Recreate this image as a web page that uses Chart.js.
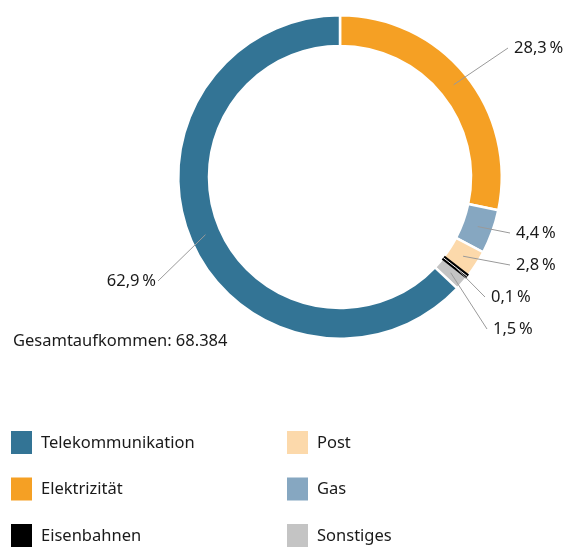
<!DOCTYPE html>
<html>
<head>
<meta charset="utf-8">
<script src="https://cdn.jsdelivr.net/npm/chart.js@4"></script>
<style>
  html, body { margin: 0; padding: 0; background: #fff; }
  #wrap { position: relative; width: 569px; height: 547px; }
</style>
</head>
<body>
<div id="wrap"><canvas id="chart" width="569" height="547"></canvas></div>
<script>
// data, clockwise from 12 o'clock
const sectors = ['Elektrizität', 'Gas', 'Post', 'Eisenbahnen', 'Sonstiges', 'Telekommunikation'];
const shares = [28.3, 4.4, 2.8, 0.1, 1.5, 62.9];
const colors = ['#f5a024', '#86a7c1', '#fcd9ab', '#000000', '#c4c4c4', '#337495'];
const totalText = 'Gesamtaufkommen: 68.384';

// legend layout: column-major, two columns
const legendOrder = ['Telekommunikation', 'Elektrizität', 'Eisenbahnen', 'Post', 'Gas', 'Sonstiges'];

// label text anchor offsets from the ring centre (px)
const labelOffsets = [[168, -129], [170, 56], [170, 88], [145, 120], [147, 152], [-182, 104]];

const FONT = '"Noto Sans", "Open Sans", sans-serif';
const TEXT = '#1a1a1a';

function fmt(v) {
    return v.toFixed(1).replace('.', ',') + '\u2009%';
}

const annotations = {
    id: 'annotations',
    afterDatasetsDraw(chart) {
        // tiny slices are too thin to see, widen them with a stroke along their mid angle
        const ctx = chart.ctx;
        chart.getDatasetMeta(0).data.forEach((arc, i) => {
            if (shares[i] >= 0.5) return;
            const mid = (arc.startAngle + arc.endAngle) / 2;
            const c = Math.cos(mid), s = Math.sin(mid);
            ctx.save();
            ctx.beginPath();
            ctx.moveTo(arc.x + c * arc.innerRadius, arc.y + s * arc.innerRadius);
            ctx.lineTo(arc.x + c * arc.outerRadius, arc.y + s * arc.outerRadius);
            ctx.strokeStyle = colors[i];
            ctx.lineWidth = 5;
            ctx.stroke();
            ctx.strokeStyle = '#ffffff';
            ctx.lineWidth = 1;
            ctx.stroke();
            ctx.restore();
        });
    },
    afterDraw(chart) {
        const ctx = chart.ctx;
        const arcs = chart.getDatasetMeta(0).data;
        ctx.save();
        arcs.forEach((arc, i) => {
            const mid = (arc.startAngle + arc.endAngle) / 2;
            const r = (arc.innerRadius + arc.outerRadius) / 2;
            const ax = arc.x + Math.cos(mid) * r;
            const ay = arc.y + Math.sin(mid) * r;
            const [dx, dy] = labelOffsets[i];
            const lx = arc.x + dx;
            const ly = arc.y + dy;
            const left = dx < 0;
            ctx.strokeStyle = '#9a9a9a';
            ctx.lineWidth = 1;
            ctx.beginPath();
            ctx.moveTo(ax, ay);
            ctx.lineTo(lx, ly);
            ctx.stroke();
            ctx.fillStyle = TEXT;
            ctx.font = '16.5px ' + FONT;
            ctx.textBaseline = 'middle';
            ctx.textAlign = left ? 'right' : 'left';
            ctx.fillText(fmt(shares[i]), lx + (left ? -2 : 6), ly);
        });

        ctx.textAlign = 'left';
        ctx.textBaseline = 'middle';
        ctx.font = '16.5px ' + FONT;
        ctx.fillStyle = TEXT;
        ctx.fillText(totalText, 13, 341);

        legendOrder.forEach((name, k) => {
            const col = Math.floor(k / 3);
            const row = k % 3;
            const x = col === 0 ? 11 : 287;
            const y = 431 + row * 46.5;
            ctx.fillStyle = colors[sectors.indexOf(name)];
            ctx.fillRect(x, y, 21, 23);
            ctx.fillStyle = TEXT;
            ctx.fillText(name, x + 30, y + 12);
        });
        ctx.restore();
    }
};

new Chart(document.getElementById('chart'), {
    type: 'doughnut',
    data: {
        labels: sectors,
        datasets: [{
            data: shares,
            backgroundColor: colors,
            borderColor: '#ffffff',
            borderWidth: 2.5,
            hoverOffset: 0
        }]
    },
    options: {
        responsive: false,
        animation: false,
        cutout: '81%',
        layout: { padding: { left: 177, right: 66, top: 14, bottom: 207 } },
        plugins: {
            legend: { display: false },
            tooltip: { enabled: false }
        }
    },
    plugins: [annotations]
});
</script>
</body>
</html>
